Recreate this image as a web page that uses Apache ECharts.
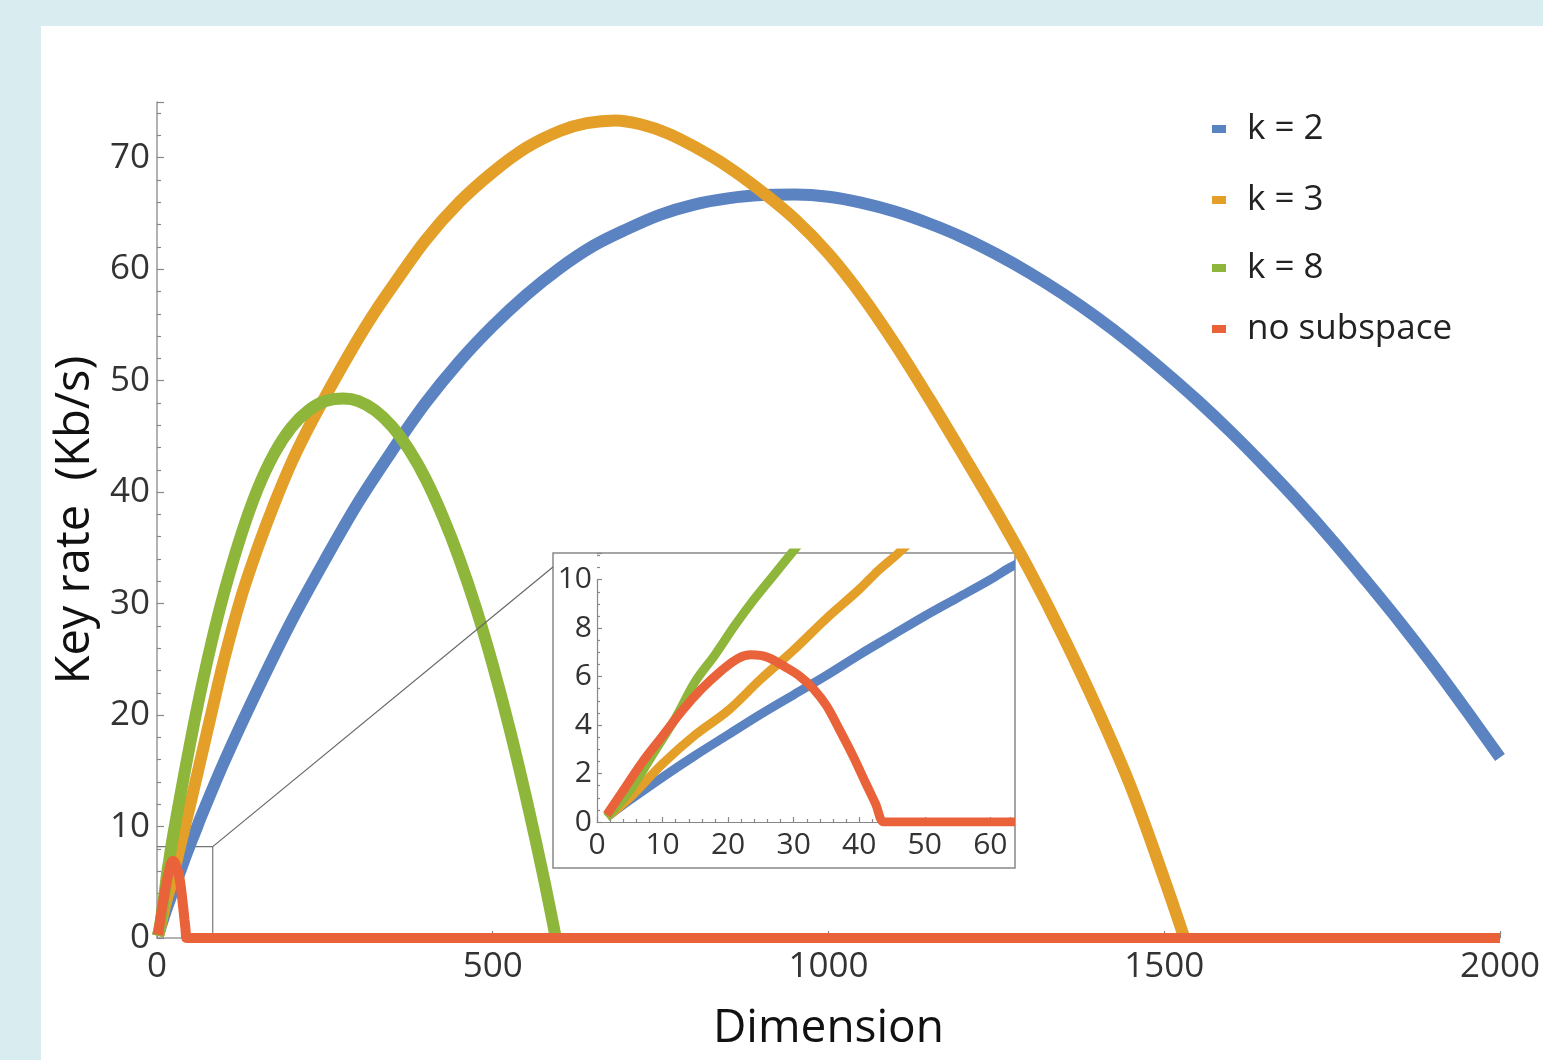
<!DOCTYPE html>
<html>
<head>
<meta charset="utf-8">
<script src="https://cdn.jsdelivr.net/npm/echarts@6/dist/echarts.min.js"></script>
<style>
  html, body { margin: 0; padding: 0; background: #d9ecef; }
  #panel { position: absolute; left: 41px; top: 26px; width: 1502px; height: 1034px; background: #fff; }
  #main { position: absolute; left: 0; top: 0; width: 1543px; height: 1060px; }
</style>
</head>
<body>
<div id="panel"></div>
<div id="main"></div>
<script>
// values (dimension -> key rate in Kb/s)
const k2Dim  = [1.5, 5, 10, 15, 20, 25, 30, 35, 40, 45, 50, 55, 60, 63, 100, 150, 200, 250, 300, 350, 400, 450, 500, 550, 600, 650, 700, 750, 800, 850, 900, 950, 1000, 1050, 1100, 1150, 1200, 1250, 1300, 1350, 1400, 1450, 1500, 1550, 1600, 1650, 1700, 1750, 1800, 1850, 1900, 1950, 2000]
const k2Rate = [0.2, 0.9, 1.85, 2.75, 3.6, 4.45, 5.25, 6.05, 6.9, 7.7, 8.5, 9.25, 10.0, 10.5, 15.8, 22.3, 28.4, 33.9, 39.1, 43.7, 48.0, 51.7, 54.9, 57.7, 60.1, 62.1, 63.6, 64.9, 65.8, 66.35, 66.65, 66.7, 66.5, 65.95, 65.15, 64.1, 62.85, 61.35, 59.65, 57.75, 55.65, 53.35, 50.85, 48.2, 45.35, 42.3, 39.1, 35.7, 32.1, 28.4, 24.5, 20.4, 16.2]

const k3Dim  = [1.5, 5, 10, 15, 20, 25, 30, 35, 40, 43, 46, 60, 80, 100, 125, 150, 175, 200, 225, 250, 275, 300, 325, 350, 400, 450, 500, 550, 600, 640, 683, 720, 760, 800, 850, 900, 950, 1000, 1050, 1100, 1150, 1200, 1250, 1300, 1350, 1400, 1450, 1500, 1530]
const k3Rate = [0.2, 1.0, 2.4, 3.6, 4.6, 5.9, 7.1, 8.4, 9.6, 10.4, 11.1, 14.7, 19.9, 25.0, 30.5, 35.0, 39.0, 42.6, 45.7, 48.5, 51.2, 53.8, 56.2, 58.4, 62.6, 66.0, 68.7, 70.9, 72.4, 73.1, 73.35, 73.0, 72.2, 71.0, 69.2, 67.0, 64.5, 61.4, 57.6, 53.2, 48.4, 43.4, 38.3, 32.9, 27.0, 20.6, 13.6, 5.3, 0]

const k8Dim  = [1.5, 5, 9, 12, 15, 18, 21, 24, 27, 30, 40, 60, 80, 100, 125, 150, 175, 200, 225, 250, 278, 300, 325, 350, 375, 400, 425, 450, 475, 500, 525, 550, 575, 594]
const k8Rate = [0.2, 1.3, 3.0, 4.3, 5.8, 6.9, 8.1, 9.2, 10.2, 11.2, 14.5, 20.7, 26.2, 31.0, 36.1, 40.3, 43.5, 45.8, 47.3, 48.15, 48.4, 48.17, 47.33, 45.9, 43.84, 41.2, 37.9, 34.06, 29.6, 24.5, 18.8, 12.5, 5.65, 0]

const noSubDim  = [1.5, 4, 7, 10, 13, 16, 19, 21.5, 23.5, 26, 29, 31, 33, 35, 37, 39, 41, 42.5, 43.75, 45, 2000]
const noSubRate = [0.3, 1.3, 2.5, 3.55, 4.6, 5.5, 6.25, 6.75, 6.9, 6.8, 6.35, 6.0, 5.5, 4.8, 3.8, 2.75, 1.6, 0.75, 0, 0, 0]

const seriesNames = ['k = 2', 'k = 3', 'k = 8', 'no subspace']
const colors = ['#5b83c2', '#e39f27', '#8db63a', '#e9623a']
const zoomBox = [83, 8.2]   // region of the main plot shown in the inset

const pairs = (xs, ys) => xs.map((x, i) => [x, ys[i]])
const curves = [pairs(k2Dim, k2Rate), pairs(k3Dim, k3Rate), pairs(k8Dim, k8Rate), pairs(noSubDim, noSubRate)]

const font = 'Open Sans'
const tickStyle = { color: '#888', width: 1.2 }

var chart = echarts.init(document.getElementById('main'))

const series = []
// zoom box outline on the main plot
series.push({
  type: 'line', xAxisIndex: 0, yAxisIndex: 0, z: 1, silent: true,
  showSymbol: false, data: [[0, zoomBox[1]], [zoomBox[0], zoomBox[1]], [zoomBox[0], 0]],
  lineStyle: { color: '#777', width: 1.2 }
})
curves.forEach((d, i) => {
  series.push({
    name: seriesNames[i], type: 'line', xAxisIndex: 0, yAxisIndex: 0,
    data: d, showSymbol: false, smooth: 0.35,
    lineStyle: { color: colors[i], width: i === 3 ? 10 : 12 },
    itemStyle: { color: colors[i] }, z: 2 + i * 0.1
  })
})
curves.forEach((d, i) => {
  const s = {
    name: seriesNames[i], type: 'line', xAxisIndex: 1, yAxisIndex: 1,
    data: d, showSymbol: false, smooth: 0.35,
    lineStyle: { color: colors[i], width: 9 },
    itemStyle: { color: colors[i] }, z: 5 + i * 0.1
  }
  if (i === 0) {
    // inset y axis line only runs up to 10
    s.markLine = {
      silent: true, symbol: 'none', label: { show: false },
      lineStyle: { color: '#888', width: 1.2, type: 'solid' },
      data: [[{ coord: [0, 0] }, { coord: [0, 10] }]]
    }
  }
  series.push(s)
})

const legendTops = [100, 171, 239, 300]
const legends = seriesNames.map((n, i) => ({
  data: [n], left: 1207, top: legendTops[i], icon: 'rect',
  itemWidth: 14, itemHeight: 8, selectedMode: false,
  textStyle: { fontFamily: font, fontSize: 35, color: '#222', padding: [0, 0, 10, 16], lineHeight: 38 }
}))

const plain = v => String(v)

chart.setOption({
  animation: false,
  legend: legends,
  grid: [
    { left: 157, right: 30, top: 102, bottom: 122 },
    { left: 597, right: 533, top: 553, bottom: 238 }
  ],
  xAxis: [
    {
      type: 'value', gridIndex: 0, min: 0, max: 2000, interval: 500,
      name: 'Dimension', nameLocation: 'middle', nameGap: 68,
      nameTextStyle: { fontFamily: font, fontSize: 46, color: '#111' },
      axisLine: { lineStyle: { color: '#999', width: 1.5 } },
      axisTick: { inside: true, length: 7, lineStyle: tickStyle },
      minorTick: { show: true, splitNumber: 5, length: 4, lineStyle: tickStyle },
      axisLabel: { fontFamily: font, fontSize: 35, color: '#333', margin: 12, formatter: plain },
      splitLine: { show: false }
    },
    {
      type: 'value', gridIndex: 1, min: 0, max: 63, interval: 10, z: 4,
      axisLine: { lineStyle: { color: '#888', width: 1.2 } },
      axisTick: { inside: true, length: 5, lineStyle: tickStyle },
      minorTick: { show: true, splitNumber: 5, length: 3, lineStyle: tickStyle },
      axisLabel: { fontFamily: font, fontSize: 30, color: '#333', margin: 8, showMaxLabel: false },
      splitLine: { show: false }
    }
  ],
  yAxis: [
    {
      type: 'value', gridIndex: 0, min: 0, max: 75, interval: 10,
      name: 'Key rate  (Kb/s)', nameLocation: 'middle', nameGap: 58, nameRotate: 90,
      nameTextStyle: { fontFamily: font, fontSize: 47, color: '#111' },
      axisLine: { show: true, lineStyle: { color: '#999', width: 1.5 } },
      axisTick: { show: true, inside: true, length: 7, lineStyle: tickStyle },
      minorTick: { show: true, splitNumber: 5, length: 4, lineStyle: tickStyle },
      axisLabel: { fontFamily: font, fontSize: 35, color: '#333', margin: 7, showMaxLabel: false },
      splitLine: { show: false }
    },
    {
      type: 'value', gridIndex: 1, min: 0, max: 11.1, interval: 2, z: 4,
      axisLine: { show: false },
      axisTick: { show: true, inside: true, length: 5, lineStyle: tickStyle },
      minorTick: { show: true, splitNumber: 4, length: 3, lineStyle: tickStyle },
      axisLabel: { fontFamily: font, fontSize: 30, color: '#333', margin: 5, showMaxLabel: false },
      splitLine: { show: false }
    }
  ],
  series: series
})

// inset frame and connector from the zoom box
const corner = chart.convertToPixel({ gridIndex: 0 }, zoomBox)
chart.setOption({
  graphic: [
    {
      type: 'rect', z: 1, silent: true,
      shape: { x: 553, y: 553, width: 462, height: 315 },
      style: { fill: '#fff', stroke: '#888', lineWidth: 1.5 }
    },
    {
      type: 'line', z: 10, silent: true,
      shape: { x1: corner[0], y1: corner[1], x2: 553, y2: 567 },
      style: { stroke: '#666', lineWidth: 1.2 }
    }
  ]
})
</script>
</body>
</html>
